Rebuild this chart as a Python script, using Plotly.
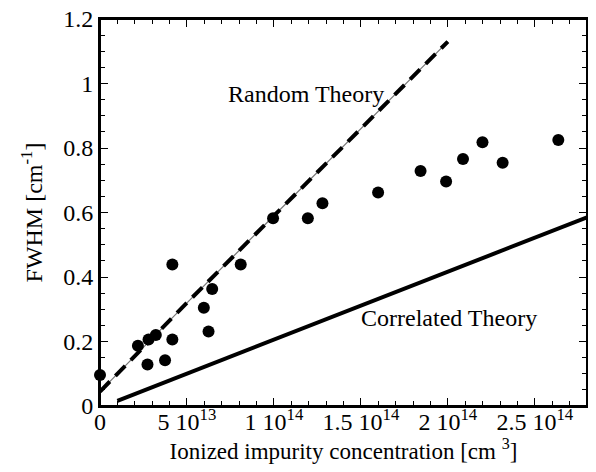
import plotly.graph_objects as go

# Measured data (ionized impurity concentration [cm^-3], FWHM [cm^-1])
conc = [0.0, 2.18e13, 2.73e13, 2.79e13, 3.21e13, 3.74e13, 4.16e13, 4.16e13,
        5.97e13, 6.24e13, 6.45e13, 8.09e13, 9.95e13, 1.195e14, 1.279e14,
        1.599e14, 1.843e14, 1.99e14, 2.087e14, 2.199e14, 2.315e14, 2.635e14]
fwhm = [0.096, 0.187, 0.129, 0.206, 0.220, 0.142, 0.206, 0.439,
        0.305, 0.231, 0.363, 0.439, 0.582, 0.582, 0.629,
        0.662, 0.729, 0.696, 0.766, 0.818, 0.754, 0.825]

# Random theory curve
random_x = [0.0, 5e13, 1e14, 1.5e14, 2e14]
random_y = [0.045, 0.32, 0.59, 0.86, 1.13]

# Correlated theory curve
corr_x = [1e13, 1e14, 2e14, 2.8e14]
corr_y = [0.016, 0.206, 0.416, 0.585]

xtick_vals = [0, 5e13, 1e14, 1.5e14, 2e14, 2.5e14]
xtick_text = ["0", "5 10<sup>13</sup>", "1 10<sup>14</sup>", "1.5 10<sup>14</sup>",
              "2 10<sup>14</sup>", "2.5 10<sup>14</sup>"]
ytick_vals = [0, 0.2, 0.4, 0.6, 0.8, 1.0, 1.2]
ytick_text = ["0", "0.2", "0.4", "0.6", "0.8", "1", "1.2"]

FONT = "Liberation Serif, Times New Roman, serif"
FS = 24

fig = go.Figure()
fig.add_trace(go.Scatter(x=random_x, y=random_y, mode="lines",
                         line=dict(color="#777777", width=1.2), showlegend=False))
fig.add_trace(go.Scatter(x=random_x, y=random_y, mode="lines",
                         line=dict(color="black", width=4, dash="14px,8px"), showlegend=False))
fig.add_trace(go.Scatter(x=corr_x, y=corr_y, mode="lines",
                         line=dict(color="black", width=4), showlegend=False))
fig.add_trace(go.Scatter(x=conc, y=fwhm, mode="markers", cliponaxis=False,
                         marker=dict(color="black", size=12), showlegend=False))

fig.add_annotation(x=1.183e14, y=0.968, text="Random Theory", showarrow=False,
                   font=dict(family=FONT, size=FS, color="black"))
fig.add_annotation(x=2.009e14, y=0.272, text="Correlated Theory", showarrow=False,
                   font=dict(family=FONT, size=FS, color="black"))

# plot frame
fig.add_shape(type="rect", xref="paper", yref="paper", x0=0, x1=1, y0=0, y1=1,
              line=dict(color="black", width=2), fillcolor="rgba(0,0,0,0)", layer="above")

axis_common = dict(showgrid=False, zeroline=False, showline=True, linecolor="black",
                   linewidth=2, mirror="allticks", ticks="inside", ticklen=8,
                   tickwidth=1, tickcolor="black", ticklabeloverflow="allow",
                   tickfont=dict(family=FONT, size=FS, color="black"))

fig.update_xaxes(range=[0, 2.8e14], tickvals=xtick_vals, ticktext=xtick_text,
                 ticklabelstandoff=-7,
                 minor=dict(ticks="inside", dtick=1e13, tick0=0, ticklen=5,
                            tickwidth=1, tickcolor="black"),
                 title=dict(text="Ionized impurity concentration [cm <sup>3</sup>]",
                            font=dict(family=FONT, size=23, color="black"), standoff=11),
                 **axis_common)
fig.update_yaxes(range=[0, 1.2], tickvals=ytick_vals, ticktext=ytick_text,
                 minor=dict(ticks="inside", dtick=0.05, tick0=0, ticklen=5,
                            tickwidth=1, tickcolor="black"),
                 title=dict(text="FWHM [cm<sup>-1</sup>]",
                            font=dict(family=FONT, size=FS, color="black"), standoff=14),
                 **axis_common)

fig.update_layout(width=580, height=456, autosize=False,
                  plot_bgcolor="white", paper_bgcolor="white",
                  margin=dict(l=92, r=1, t=11, b=58, autoexpand=False),
                  font=dict(family=FONT, color="black"))

fig.write_html("out.html")
